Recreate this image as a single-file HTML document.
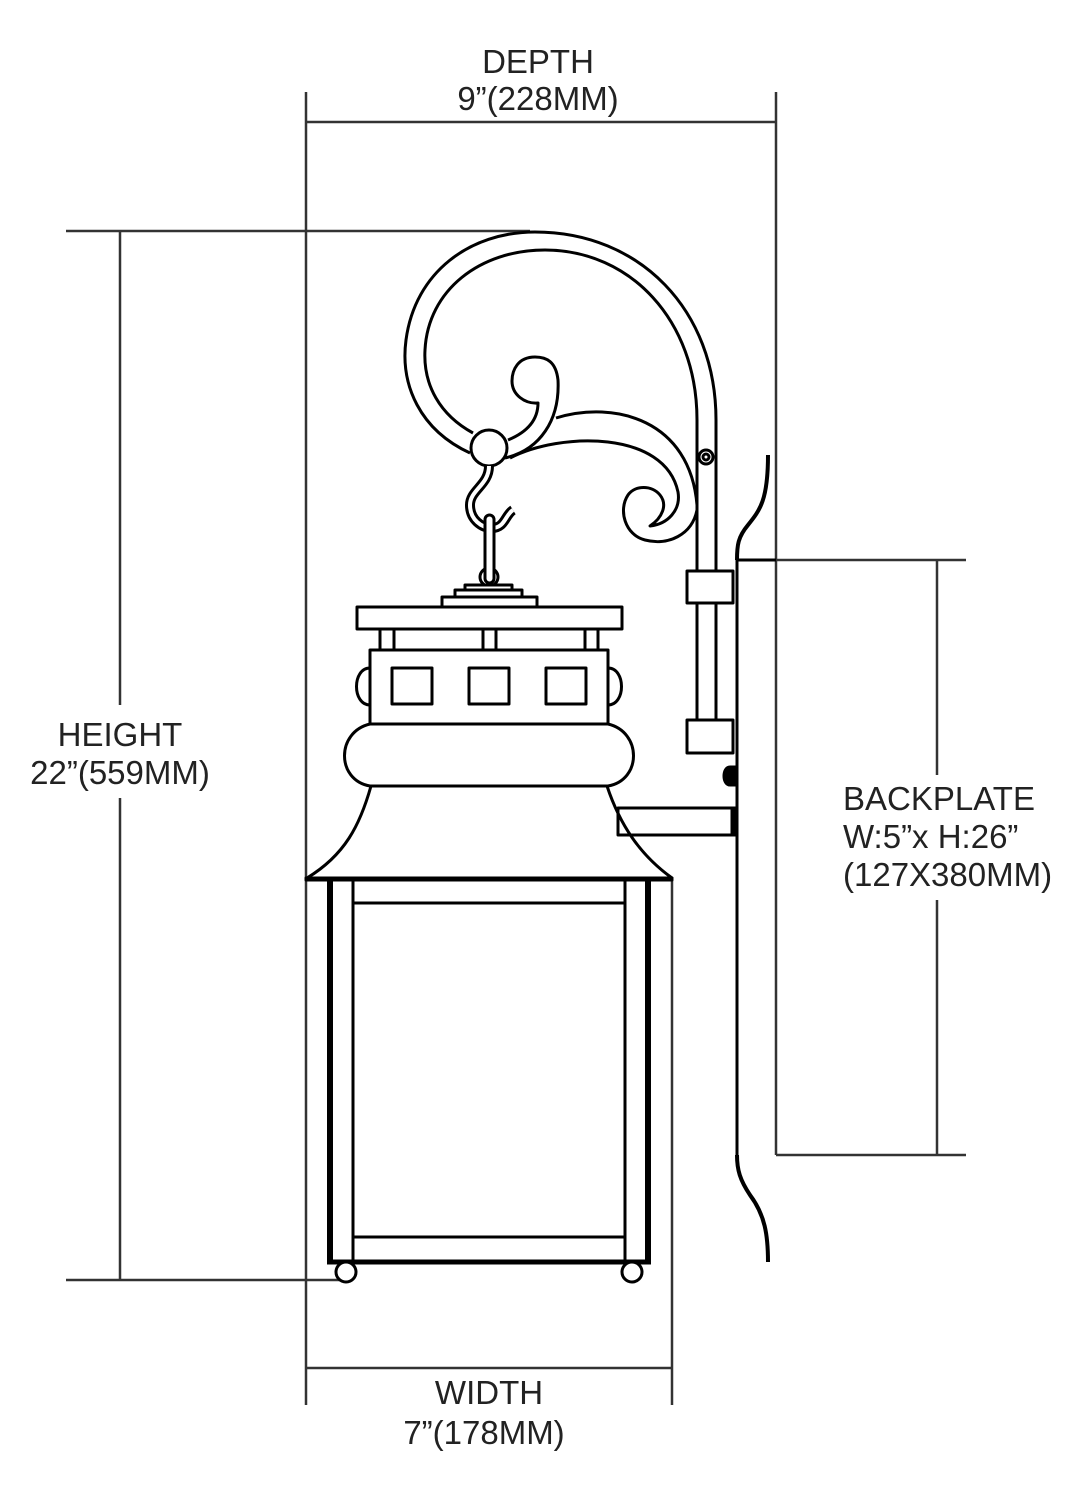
<!DOCTYPE html>
<html><head><meta charset="utf-8"><style>
html,body{margin:0;padding:0;background:#fff;}
svg{display:block}
text{font-family:"Liberation Sans",sans-serif;font-size:33px;fill:#222;}
</style></head><body>
<svg width="1086" height="1500" viewBox="0 0 1086 1500" xmlns="http://www.w3.org/2000/svg">
<g stroke="#333" stroke-width="2.5" fill="none">
<line x1="306" y1="92" x2="306" y2="1405"/>
<line x1="776" y1="92" x2="776" y2="1155"/>
<line x1="306" y1="122" x2="776" y2="122"/>
<line x1="66" y1="231" x2="530" y2="231"/>
<line x1="66" y1="1280" x2="345" y2="1280"/>
<line x1="120" y1="231" x2="120" y2="705"/>
<line x1="120" y1="798" x2="120" y2="1280"/>
<line x1="672" y1="878" x2="672" y2="1405"/>
<line x1="306" y1="1368" x2="672" y2="1368"/>
<line x1="776" y1="560" x2="966" y2="560"/>
<line x1="776" y1="1155" x2="966" y2="1155"/>
<line x1="937" y1="560" x2="937" y2="775"/>
<line x1="937" y1="900" x2="937" y2="1155"/>
</g>
<text x="538" y="73" text-anchor="middle">DEPTH</text>
<text x="538" y="110" text-anchor="middle">9”(228MM)</text>
<text x="120" y="746" text-anchor="middle">HEIGHT</text>
<text x="120" y="784" text-anchor="middle">22”(559MM)</text>
<text x="489" y="1404" text-anchor="middle">WIDTH</text>
<text x="484" y="1444" text-anchor="middle">7”(178MM)</text>
<text x="843" y="810">BACKPLATE</text>
<text x="843" y="848">W:5”x H:26”</text>
<text x="843" y="886">(127X380MM)</text>

<g stroke="#000" stroke-width="3" fill="none" stroke-linejoin="round">
<line x1="737" y1="560" x2="737" y2="1155"/>
<line x1="737" y1="560" x2="776" y2="560"/>
<path d="M768,455 C768,500 760,510 748,525 C738,537 737,545 737,560" stroke-width="4"/>
<path d="M737,1155 C737,1170 740,1180 750,1195 C765,1215 768,1235 768,1262" stroke-width="4"/>
<path d="M470,453 C420,430 400,385 406,340 C415,272 470,232 535,232 C640,232 716,310 716,420 L716,571"/>
<path d="M473,433 C440,415 423,385 425,350 C428,290 480,250 545,250 C630,250 697,320 697,420 L697,571"/>
<line x1="697" y1="603" x2="697" y2="720"/><line x1="716" y1="603" x2="716" y2="720"/>
<rect x="687" y="571" width="46" height="32" fill="#fff"/>
<rect x="687" y="720" width="46" height="33" fill="#fff"/>
<circle cx="706" cy="457" r="7" fill="#fff"/>
<circle cx="706" cy="457" r="3"/>
<rect x="618" y="808" width="119" height="27" fill="#fff"/>
<path d="M737,767 L730,767 C722,767 722,785 730,785 L737,785" fill="#000"/>
<rect x="732" y="808" width="5" height="27" fill="#000"/>
<path d="M505,458 C540,450 560,420 558,380 C556,362 547,357 535,357 C518,357 512,370 512,381 C512,395 525,404 538,403 C538,422 525,433 508,440"/>
<path d="M556,418 C615,400 690,420 697,505"/>
<path d="M510,458 C560,432 665,430 678,492 C681,510 668,524 650,526 C662,518 668,505 660,495 C652,485 635,485 628,495 C618,510 625,535 645,540 C668,546 692,535 697,510"/>
<circle cx="489" cy="448" r="18" fill="#fff"/>
<path d="M489,466 C489,485 470,490 470,505 C470,520 482,528 492,528 C505,528 505,515 513,510" stroke-width="10"/>
<path d="M489,466 C489,485 470,490 470,505 C470,520 482,528 492,528 C505,528 505,515 513,510" stroke="#fff" stroke-width="4"/>
<circle cx="489" cy="577" r="9" fill="#fff"/>
<rect x="485" y="515" width="9" height="68" rx="4.5" fill="#fff"/>
<rect x="465" y="585" width="47" height="5" fill="#fff"/>
<rect x="455" y="590" width="67" height="8" fill="#fff"/>
<rect x="442" y="597" width="95" height="10" fill="#fff"/>
<rect x="357" y="607" width="265" height="22" fill="#fff"/>
<rect x="380" y="629" width="14" height="21"/><rect x="483" y="629" width="13" height="21"/><rect x="585" y="629" width="13" height="21"/>
<path d="M370,668 C352,668 352,705 370,705"/>
<path d="M608,668 C626,668 626,705 608,705"/>
<rect x="370" y="650" width="238" height="74" fill="#fff"/>
<rect x="392" y="668" width="40" height="36"/><rect x="469" y="668" width="40" height="36"/><rect x="546" y="668" width="40" height="36"/>
<path d="M370,724 L608,724 C642,732 642,780 608,786 L370,786 C336,780 336,732 370,724 Z" fill="#fff"/>
<path d="M371,786 C360,825 345,855 307,878 L672,878 C640,855 620,825 607,786"/>
<rect x="306" y="878" width="366" height="2"/>
<line x1="330" y1="880" x2="330" y2="1262" stroke-width="6"/>
<line x1="648" y1="880" x2="648" y2="1262" stroke-width="6"/>
<line x1="353" y1="880" x2="353" y2="1262"/>
<line x1="625" y1="880" x2="625" y2="1262"/>
<line x1="353" y1="903" x2="625" y2="903"/>
<line x1="353" y1="1237" x2="625" y2="1237"/>
<line x1="327" y1="1262" x2="651" y2="1262" stroke-width="5"/>
<circle cx="346" cy="1272" r="10" fill="#fff"/>
<circle cx="632" cy="1272" r="10" fill="#fff"/>
</g>
</svg>
</body></html>
